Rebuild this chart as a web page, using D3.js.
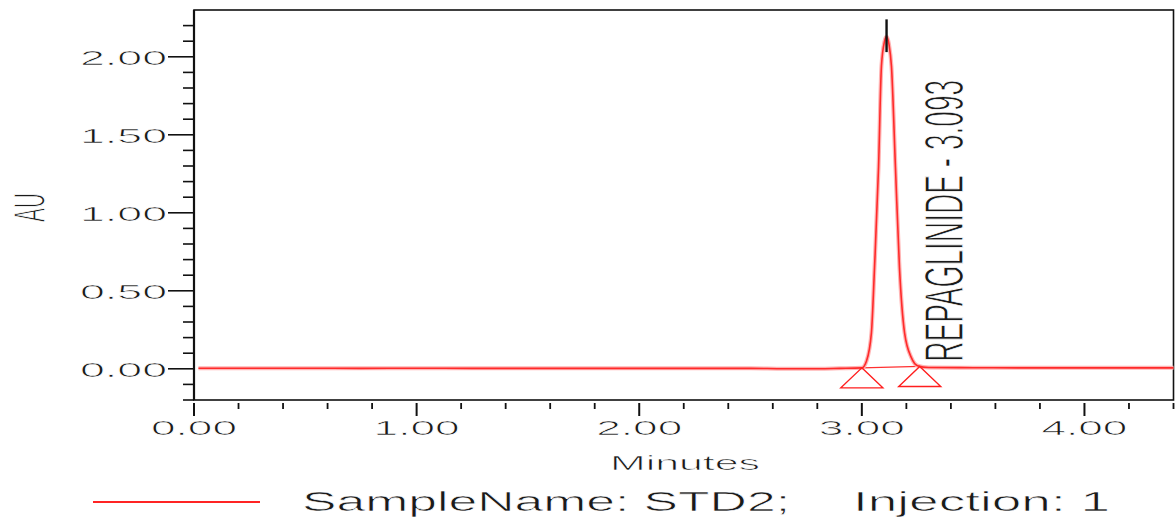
<!DOCTYPE html>
<html>
<head>
<meta charset="utf-8">
<script src="https://cdn.jsdelivr.net/npm/d3@7"></script>
<style>
  html, body { margin: 0; padding: 0; background: #fff; }
  svg text { font-family: "Liberation Sans", Arial, sans-serif; fill: #1a1a1a; }
  /* thin the glyphs a little: white stroke painted over the fill */
  svg text.thin { stroke: #fff; stroke-width: 0.6px; }
  svg text.thinner { stroke: #fff; stroke-width: 0.7px; }
</style>
</head>
<body>
<svg id="chart" width="1176" height="518"></svg>
<script>
// --- Data ---
// Retention time (minutes) and absorbance (AU) of the trace
const times = [0.02, 0.25, 0.50, 0.75, 1.00, 1.25, 1.50, 1.75, 2.00, 2.25, 2.50, 2.65, 2.75, 2.90,
    3.000, 3.021, 3.043, 3.057, 3.075, 3.088, 3.102, 3.111, 3.122, 3.133, 3.151, 3.169, 3.192, 3.223, 3.250, 3.300,
    3.50, 3.75, 4.00, 4.25, 4.40];
const absorbance = [0.004, 0.004, 0.004, 0.003, 0.004, 0.003, 0.003, 0.003, 0.003, 0.003, 0.003, 0.000, 0.000, 0.003,
    0.006, 0.05, 0.23, 0.65, 1.29, 1.94, 2.10, 2.13, 2.08, 1.94, 1.29, 0.65, 0.23, 0.07, 0.02, 0.008,
    0.007, 0.006, 0.006, 0.006, 0.006];

// Integrated peak: start / end markers and apex
const peakName = "REPAGLINIDE";
const peakRT = "3.093";
const peakStart = [3.00, 0.006];
const peakEnd = [3.26, 0.015];
const peakApex = [3.111, 2.13];

// Axis ticks
const xMajorTicks = [0, 1, 2, 3, 4];
const xMinorTicks = d3.range(0, 4.41, 0.2);
const yMajorTicks = [0, 0.5, 1.0, 1.5, 2.0];
const yMinorTicks = d3.range(-0.2, 2.21, 0.1);

const legendName = "SampleName: STD2;";
const legendInjection = "Injection: 1";

(function () {
    const svg = d3.select("#chart");
    const margin = { left: 194, right: 2.5, top: 10, bottom: 118 };
    const W = 1176, H = 518;

    const x = d3.scaleLinear().domain([0, 4.4]).range([margin.left, W - margin.right]);
    const y = d3.scaleLinear().domain([-0.2, 2.3]).range([H - margin.bottom, margin.top]);

    svg.append("rect").attr("width", W).attr("height", H).attr("fill", "#fff");

    // plot frame
    svg.append("rect")
        .attr("x", x(0)).attr("y", y(2.3))
        .attr("width", x(4.4) - x(0)).attr("height", y(-0.2) - y(2.3))
        .attr("fill", "none").attr("stroke", "#111").attr("stroke-width", 1.6);
    svg.append("line")
        .attr("x1", x(0)).attr("x2", x(0)).attr("y1", y(2.3)).attr("y2", y(-0.2))
        .attr("stroke", "#111").attr("stroke-width", 2.2);

    // y ticks (outward, left)
    const isMajorY = v => yMajorTicks.some(m => Math.abs(m - v) < 1e-6);
    svg.append("g").selectAll("line")
        .data(yMinorTicks)
        .join("line")
        .attr("x1", d => x(0) - (isMajorY(d) ? 26 : 11))
        .attr("x2", x(0))
        .attr("y1", d => y(d)).attr("y2", d => y(d))
        .attr("stroke", "#111").attr("stroke-width", 1.6);
    svg.append("g").selectAll("text")
        .data(yMajorTicks)
        .join("text")
        .attr("class", "thin")
        .attr("x", x(0) - 27 - 87)
        .attr("y", d => y(d) + 8)
        .attr("font-size", 21)
        .attr("textLength", 87).attr("lengthAdjust", "spacingAndGlyphs")
        .text(d => d.toFixed(2));

    // x ticks (below, with a small gap)
    const isMajorX = v => xMajorTicks.some(m => Math.abs(m - v) < 1e-6);
    svg.append("g").selectAll("line")
        .data(xMinorTicks)
        .join("line")
        .attr("x1", d => x(d)).attr("x2", d => x(d))
        .attr("y1", y(-0.2) + 3)
        .attr("y2", d => y(-0.2) + (isMajorX(d) ? 16 : 9))
        .attr("stroke", "#111").attr("stroke-width", d => isMajorX(d) ? 2 : 1.8);
    svg.append("g").selectAll("text")
        .data(xMajorTicks)
        .join("text")
        .attr("class", "thin")
        .attr("x", d => x(d) - 43)
        .attr("y", y(-0.2) + 35)
        .attr("font-size", 21)
        .attr("textLength", 86).attr("lengthAdjust", "spacingAndGlyphs")
        .text(d => d.toFixed(2));

    // axis titles
    svg.append("text")
        .attr("class", "thin")
        .attr("x", 610).attr("y", 470)
        .attr("font-size", 21)
        .attr("textLength", 150).attr("lengthAdjust", "spacingAndGlyphs")
        .text("Minutes");
    // vertical text in the source is stretched across its height
    svg.append("text")
        .attr("class", "thinner")
        .attr("transform", "translate(45,222) scale(2.1,1) rotate(-90)")
        .attr("font-size", 21)
        .attr("textLength", 29).attr("lengthAdjust", "spacingAndGlyphs")
        .text("AU");

    // --- trace ---
    const pts = times.map((t, i) => [t, absorbance[i]]);
    const line = d3.line()
        .x(d => x(d[0])).y(d => y(d[1]))
        .curve(d3.curveMonotoneX);

    // integration baseline between start and end markers
    svg.append("line")
        .attr("x1", x(peakStart[0])).attr("y1", y(peakStart[1]))
        .attr("x2", x(peakEnd[0])).attr("y2", y(peakEnd[1]))
        .attr("stroke", "#ff3030").attr("stroke-width", 1.2);

    svg.append("path").datum(pts)
        .attr("d", line)
        .attr("fill", "none").attr("stroke", "#ffb4b4").attr("stroke-width", 4)
        .attr("stroke-linejoin", "round");
    svg.append("path").datum(pts)
        .attr("d", line)
        .attr("fill", "none").attr("stroke", "#ff2a2a").attr("stroke-width", 1.6)
        .attr("stroke-linejoin", "round");

    // apex marker
    svg.append("line")
        .attr("x1", x(peakApex[0])).attr("x2", x(peakApex[0]))
        .attr("y1", y(peakApex[1] + 0.11)).attr("y2", y(peakApex[1] - 0.10))
        .attr("stroke", "#111").attr("stroke-width", 2.4);

    // start / end triangles
    svg.append("g").selectAll("path")
        .data([peakStart, peakEnd])
        .join("path")
        .attr("transform", d => `translate(${x(d[0])},${y(d[1])})`)
        .attr("d", "M0,0 L21,20 L-21,20 Z")
        .attr("fill", "none").attr("stroke", "#ff1e1e").attr("stroke-width", 1.4);

    // peak label (rotated, stretched across its height like the source)
    svg.append("text")
        .attr("class", "thinner")
        .attr("transform", `translate(${x(peakEnd[0]) + 43},${y(0) - 7}) scale(1.9,1) rotate(-90)`)
        .attr("font-size", 29)
        .attr("textLength", 282).attr("lengthAdjust", "spacingAndGlyphs")
        .text(`${peakName} - ${peakRT}`);

    // --- legend ---
    svg.append("line")
        .attr("x1", 93).attr("x2", 260).attr("y1", 502).attr("y2", 502)
        .attr("stroke", "#ff2424").attr("stroke-width", 2);
    svg.append("text")
        .attr("class", "thin")
        .attr("x", 302).attr("y", 511)
        .attr("font-size", 28)
        .attr("textLength", 488).attr("lengthAdjust", "spacingAndGlyphs")
        .text(legendName);
    svg.append("text")
        .attr("class", "thin")
        .attr("x", 853).attr("y", 511)
        .attr("font-size", 28)
        .attr("textLength", 257).attr("lengthAdjust", "spacingAndGlyphs")
        .text(legendInjection);
})();
</script>
</body>
</html>
